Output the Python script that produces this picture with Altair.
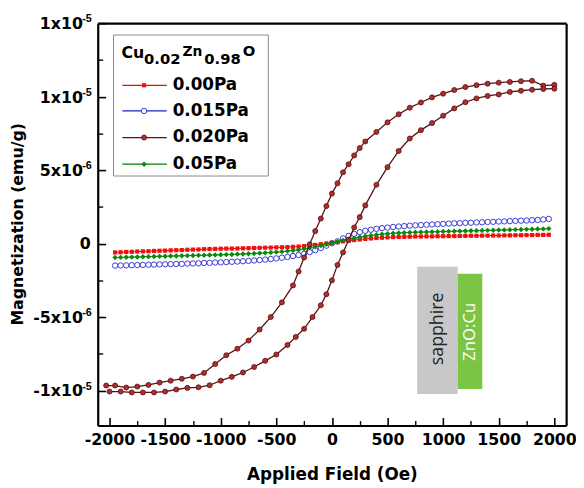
import altair as alt
import pandas as pd

# ---------------- data (M in units of 1e-6 emu/g) ----------------
flat_H = [-1950, -1900, -1850, -1800, -1750, -1700, -1650, -1600, -1550, -1500,
          -1450, -1400, -1350, -1300, -1250, -1200, -1150, -1100, -1050, -1000,
          -950, -900, -850, -800, -750, -700, -650, -600, -550, -500,
          -450, -400, -350, -300, -250, -200, -150, -100, -50, 0,
          50, 100, 150, 200, 250, 300, 350, 400, 450, 500,
          550, 600, 650, 700, 750, 800, 850, 900, 950, 1000,
          1050, 1100, 1150, 1200, 1250, 1300, 1350, 1400, 1450, 1500,
          1550, 1600, 1650, 1700, 1750, 1800, 1850, 1900, 1950]

red_M = [-0.60, -0.59, -0.57, -0.56, -0.54, -0.53, -0.52, -0.50, -0.49, -0.48,
         -0.46, -0.45, -0.44, -0.42, -0.41, -0.40, -0.38, -0.37, -0.36, -0.35,
         -0.34, -0.34, -0.33, -0.32, -0.31, -0.30, -0.29, -0.28, -0.27, -0.26,
         -0.25, -0.24, -0.22, -0.20, -0.17, -0.13, -0.09, -0.04, 0.01, 0.06,
         0.10, 0.15, 0.20, 0.24, 0.28, 0.32, 0.35, 0.38, 0.40, 0.42,
         0.44, 0.45, 0.46, 0.47, 0.48, 0.48, 0.49, 0.49, 0.50, 0.50,
         0.51, 0.51, 0.52, 0.52, 0.53, 0.53, 0.54, 0.54, 0.55, 0.55,
         0.56, 0.56, 0.57, 0.57, 0.58, 0.58, 0.59, 0.59, 0.60]

green_M = [-0.95, -0.94, -0.93, -0.92, -0.91, -0.90, -0.89, -0.88, -0.87, -0.86,
           -0.85, -0.84, -0.83, -0.82, -0.81, -0.80, -0.79, -0.78, -0.77, -0.76,
           -0.75, -0.74, -0.72, -0.71, -0.69, -0.67, -0.65, -0.63, -0.61, -0.58,
           -0.55, -0.51, -0.47, -0.42, -0.36, -0.29, -0.22, -0.14, -0.05, 0.04,
           0.13, 0.22, 0.30, 0.37, 0.44, 0.50, 0.55, 0.60, 0.64, 0.67,
           0.70, 0.72, 0.74, 0.76, 0.77, 0.78, 0.79, 0.80, 0.81, 0.82,
           0.83, 0.84, 0.85, 0.86, 0.87, 0.88, 0.89, 0.90, 0.91, 0.92,
           0.93, 0.94, 0.95, 0.96, 0.97, 0.98, 0.99, 1.00, 1.02]

blue_M = [-1.50, -1.49, -1.48, -1.47, -1.46, -1.45, -1.44, -1.43, -1.42, -1.41,
          -1.40, -1.39, -1.38, -1.36, -1.35, -1.34, -1.32, -1.31, -1.29, -1.28,
          -1.26, -1.24, -1.22, -1.20, -1.18, -1.15, -1.12, -1.09, -1.05, -1.01,
          -0.96, -0.91, -0.85, -0.78, -0.69, -0.58, -0.45, -0.30, -0.14, 0.02,
          0.15, 0.35, 0.52, 0.66, 0.78, 0.87, 0.94, 1.00, 1.05, 1.09,
          1.13, 1.16, 1.19, 1.22, 1.24, 1.26, 1.28, 1.30, 1.32, 1.34,
          1.36, 1.38, 1.39, 1.41, 1.42, 1.44, 1.45, 1.47, 1.48, 1.50,
          1.51, 1.53, 1.54, 1.56, 1.57, 1.59, 1.61, 1.64, 1.68]

# 0.020 Pa hysteresis loop
desc_H = [2000, 1900, 1800, 1700, 1600, 1500, 1400, 1300, 1200, 1100, 1000, 900, 800, 700, 600, 500, 400,
          300, 250, 200, 150, 100, 50, 0, -50, -100, -150, -200, -250, -300, -350,
          -450, -550, -650, -750, -850, -950, -1050, -1150, -1250, -1350, -1450, -1550, -1650, -1750, -1850, -1950,
          -2030]
desc_M = [10.8, 10.75, 11.08, 11.05, 11.0, 10.95, 10.88, 10.78, 10.65, 10.45, 10.2, 9.95, 9.6, 9.25, 8.8, 8.25, 7.6,
          6.95, 6.5, 6.0, 5.4, 4.85, 4.1, 3.4, 2.55, 1.7, 0.85, -0.05, -0.95, -1.9, -2.85,
          -4.0, -5.0, -5.85, -6.6, -7.15, -7.6, -8.2, -8.8, -9.05, -9.2, -9.33, -9.46, -9.62, -9.73, -9.8, -9.66,
          -9.66]
asc_H = [-2000, -1900, -1800, -1700, -1600, -1500, -1400, -1300, -1200, -1100, -1000, -900, -800, -700, -600, -500, -400,
         -325, -250, -175, -100, -50, 0, 50, 100, 150, 200, 250, 300,
         400, 500, 600, 700, 800, 900, 1000, 1100, 1200, 1300, 1400, 1500, 1600, 1700, 1800, 1900, 2000]
asc_M = [-10.07, -10.07, -10.13, -10.13, -10.13, -10.07, -9.93, -9.82, -9.78, -9.64, -9.33, -9.07, -8.77, -8.4, -7.98, -7.55, -6.9,
         -6.35, -5.8, -5.0, -4.2, -3.45, -2.5, -1.45, -0.6, 0.25, 1.1, 1.8, 2.6,
         4.0, 5.2, 6.3, 7.15, 7.72, 8.2, 8.7, 9.2, 9.62, 9.88, 10.05, 10.15, 10.32, 10.4, 10.47, 10.52, 10.54]

legend_labels = ["0.00Pa", "0.015Pa", "0.020Pa", "0.05Pa"]

x_major = [-2000, -1500, -1000, -500, 0, 500, 1000, 1500, 2000]
x_minor = [-1750, -1250, -750, -250, 250, 750, 1250, 1750]
y_major = [-10, -5, 0, 5, 10, 15]
y_minor = [-7.5, -2.5, 2.5, 7.5, 12.5]
ylab_vals = [15, 10, 5, -5, -10]
ylab_base = ["1x10", "1x10", "5x10", "-5x10", "-1x10"]
ylab_sup = ["-5", "-5", "-6", "-6", "-5"]

# ---------------- build ----------------
FONT = "DejaVu Sans"
W, H = 475, 408
XS = alt.Scale(domain=[-2106, 2106], nice=False, zero=False)
YS = alt.Scale(domain=[-12.38, 15], nice=False, zero=False)

red_df = pd.DataFrame({"H": flat_H, "M": red_M})
green_df = pd.DataFrame({"H": flat_H, "M": green_M})
blue_df = pd.DataFrame({"H": flat_H, "M": blue_M})
loop_df = pd.concat([
    pd.DataFrame({"H": desc_H, "M": desc_M, "branch": "desc", "i": range(len(desc_H))}),
    pd.DataFrame({"H": asc_H, "M": asc_M, "branch": "asc", "i": range(len(asc_H))}),
])


def xy(ax=None, ay=None):
    return dict(
        x=alt.X("H:Q", scale=XS, axis=ax),
        y=alt.Y("M:Q", scale=YS, axis=ay),
    )


major_x_axis = alt.Axis(values=x_major, orient="bottom", domain=False, grid=False, tickSize=8, offset=-8,
                        tickColor="black", tickWidth=1.6, labelFont=FONT, labelFontWeight="bold",
                        labelFontSize=16, labelColor="black", labelPadding=6, labelFlush=False,
                        labelOverlap=False, labelExpr="'' + datum.value", title=None)
major_y_axis = alt.Axis(values=y_major, orient="left", domain=False, grid=False, tickSize=8, offset=-8,
                        tickColor="black", tickWidth=1.6, labels=False, title=None)
minor_x_axis = alt.Axis(values=x_minor, orient="bottom", domain=False, grid=False, tickSize=5, offset=-5,
                        tickColor="black", tickWidth=1.4, labels=False, title=None)
minor_y_axis = alt.Axis(values=y_minor, orient="left", domain=False, grid=False, tickSize=5, offset=-5,
                        tickColor="black", tickWidth=1.4, labels=False, title=None)


def frame_axis(orient):
    return alt.Axis(orient=orient, domain=True, domainColor="black", domainWidth=2.2, ticks=False,
                    labels=False, grid=False, title=None, offset=0)


one = pd.DataFrame({"a": [0]})

layers = []

# inset: sapphire / ZnO:Cu (under data)
layers.append(alt.Chart(one).mark_rect(color="#c8c8c8").encode(
    x=alt.value(324), x2=alt.value(365), y=alt.value(247), y2=alt.value(376)))
layers.append(alt.Chart(one).mark_rect(color="#7cc443").encode(
    x=alt.value(365), x2=alt.value(390), y=alt.value(254), y2=alt.value(371)))

# blue 0.015 Pa
layers.append(alt.Chart(blue_df).mark_line(color="#2020d0", strokeWidth=1).encode(
    **xy(major_x_axis, major_y_axis), order="H:Q"))
layers.append(alt.Chart(blue_df).mark_point(shape="circle", size=30, filled=True, fill="white",
                                            stroke="#3a3ad8", strokeWidth=1, opacity=1).encode(
    **xy(frame_axis("top"), frame_axis("right"))))
# red 0.00 Pa
layers.append(alt.Chart(red_df).mark_line(color="#ff0000", strokeWidth=1).encode(
    **xy(minor_x_axis, minor_y_axis), order="H:Q"))
layers.append(alt.Chart(red_df).mark_point(shape="square", size=18, filled=True, color="#f01010",
                                           opacity=1).encode(**xy(frame_axis("bottom"), frame_axis("left"))))
# green 0.05 Pa
layers.append(alt.Chart(green_df).mark_line(color="#008000", strokeWidth=1).encode(**xy(), order="H:Q"))
layers.append(alt.Chart(green_df).mark_point(shape="diamond", size=30, filled=True, color="#0a8a0a",
                                             opacity=1).encode(**xy()))
# maroon 0.020 Pa loop
layers.append(alt.Chart(loop_df).mark_line(color="#5a1212", strokeWidth=1.3).encode(
    **xy(), detail="branch:N", order="i:Q"))
layers.append(alt.Chart(loop_df).mark_point(shape="circle", size=26, filled=True, fill="#a83030",
                                            stroke="#5a0e0e", strokeWidth=0.8, opacity=1).encode(**xy()))

# y tick labels with superscripts
ylab_df = pd.DataFrame({"M": ylab_vals, "base": ylab_base, "sup": ylab_sup})
layers.append(alt.Chart(ylab_df).mark_text(font=FONT, fontWeight="bold", fontSize=16, align="right",
                                           baseline="middle", dy=1, color="black").encode(
    y=alt.Y("M:Q", scale=YS, axis=None), x=alt.value(-15), text="base:N"))
layers.append(alt.Chart(ylab_df).mark_text(font="Liberation Sans", fontWeight="bold", fontSize=11, align="right",
                                           baseline="middle", dy=-4, color="black").encode(
    y=alt.Y("M:Q", scale=YS, axis=None), x=alt.value(-6), text="sup:N"))
zero_df = pd.DataFrame({"M": [0], "t": ["0"]})
layers.append(alt.Chart(zero_df).mark_text(font=FONT, fontWeight="bold", fontSize=16, align="right",
                                           baseline="middle", dy=1, color="black").encode(
    y=alt.Y("M:Q", scale=YS, axis=None), x=alt.value(-7), text="t:N"))


def txt(s, x, y, size=16, font=FONT, weight="bold", color="black", angle=0, align="left", baseline="alphabetic"):
    return alt.Chart(one).mark_text(text=s, font=font, fontSize=size, fontWeight=weight, color=color,
                                    angle=angle, align=align, baseline=baseline).encode(
        x=alt.value(x), y=alt.value(y))


# axis titles
layers.append(txt("Magnetization (emu/g)", -81, 204, size=16, angle=270, align="center", baseline="middle"))
layers.append(txt("Applied Field (Oe)", 238, 458, size=17, align="center", baseline="middle"))

# inset labels
layers.append(txt("sapphire", 345, 310, size=18, font="Open Sans", weight="normal", color="#222222",
                  angle=270, align="center", baseline="middle"))
layers.append(txt("ZnO:Cu", 378, 313, size=17, font="Open Sans", weight="normal", color="white",
                  angle=270, align="center", baseline="middle"))

# legend box
layers.append(alt.Chart(one).mark_rect(fill="white", stroke="#8a8a8a", strokeWidth=1).encode(
    x=alt.value(16), x2=alt.value(173), y=alt.value(12), y2=alt.value(155)))
# legend title Cu0.02Zn0.98O
layers.append(txt("Cu", 24, 35, size=16))
layers.append(txt("0.02", 47, 41, size=15))
layers.append(txt("Zn", 86, 33, size=14))
layers.append(txt("0.98", 108, 41, size=15))
layers.append(txt("O", 147, 33, size=15))

leg_y = [63, 89, 116, 143]
leg_line = ["#ff0000", "#2020d0", "#5a1212", "#008000"]
leg_pt = [
    dict(shape="square", size=18, filled=True, color="#f01010"),
    dict(shape="circle", size=30, filled=True, fill="white", stroke="#3a3ad8", strokeWidth=1),
    dict(shape="circle", size=26, filled=True, fill="#a83030", stroke="#5a0e0e", strokeWidth=0.8),
    dict(shape="diamond", size=30, filled=True, color="#0a8a0a"),
]
for lab, yy, lc, pt in zip(legend_labels, leg_y, leg_line, leg_pt):
    layers.append(alt.Chart(one).mark_rule(color=lc, strokeWidth=1.3).encode(
        x=alt.value(25), x2=alt.value(70), y=alt.value(yy)))
    layers.append(alt.Chart(one).mark_point(opacity=1, **pt).encode(x=alt.value(47), y=alt.value(yy)))
    layers.append(txt(lab, 76, yy, size=17, baseline="middle"))

chart = alt.layer(*layers).resolve_axis(x="independent", y="independent").properties(
    width=W, height=H,
    autosize=alt.AutoSizeParams(type="none"),
    padding={"left": 91, "top": 12, "right": 10, "bottom": 60},
).configure_view(stroke="black", strokeWidth=2).configure(background="white")

chart.save("out.html", embed_options={"renderer": "svg", "actions": False})
